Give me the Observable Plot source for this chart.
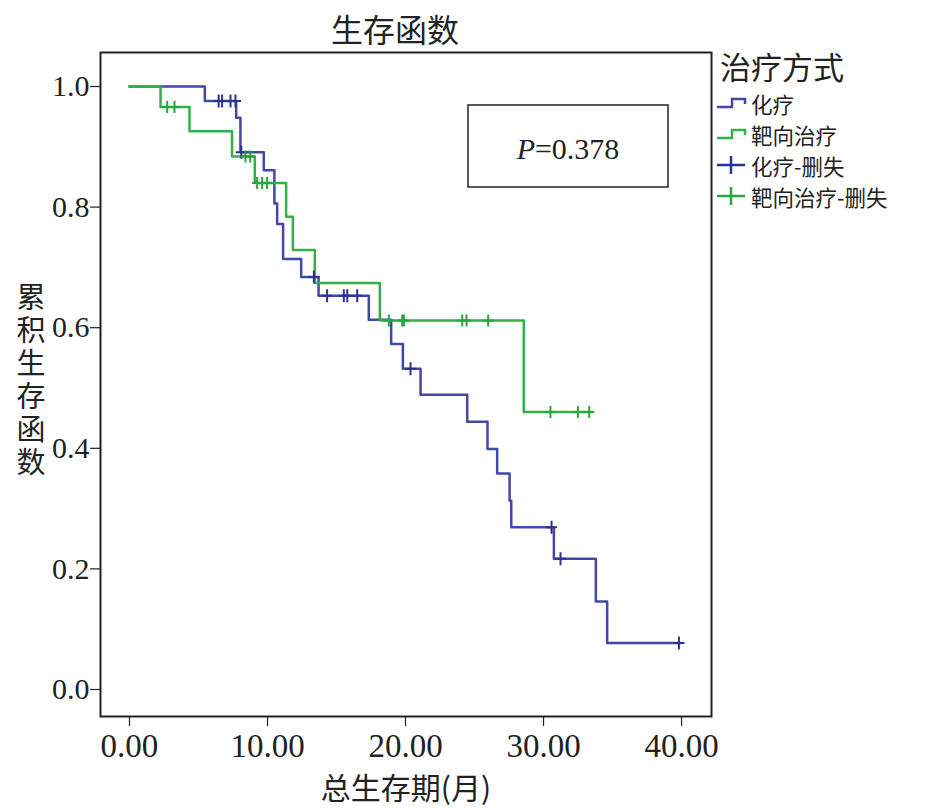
<!DOCTYPE html>
<html><head><meta charset="utf-8">
<script src="https://cdn.jsdelivr.net/npm/d3@7"></script>
<script src="https://cdn.jsdelivr.net/npm/@observablehq/plot@0.6"></script>
<style>body{margin:0;background:#fff}</style>
</head><body><div id="chart"></div>
<script>
// 化疗 (chemotherapy) Kaplan–Meier steps: time (months) and survival after the step
const chemoT = [0, 5.46, 7.73, 8.04, 9.73, 10.5, 10.7, 11.13, 12.44, 13.7, 17.34, 18.96, 19.81, 21.09, 24.47, 25.94, 26.64, 27.54, 27.66, 30.75, 33.79, 34.61, 39.9];
const chemoS = [1.0, 0.976, 0.948, 0.891, 0.861, 0.806, 0.772, 0.714, 0.684, 0.653, 0.613, 0.573, 0.532, 0.489, 0.444, 0.399, 0.358, 0.313, 0.269, 0.217, 0.146, 0.077, 0.077];
// 靶向治疗 (targeted therapy)
const targT = [0, 2.25, 4.35, 7.43, 9.08, 11.35, 11.84, 13.43, 18.14, 28.57, 33.5];
const targS = [1.0, 0.966, 0.926, 0.884, 0.84, 0.784, 0.729, 0.674, 0.612, 0.46, 0.46];
// censored observations
const chemoCensT = [6.46, 6.71, 7.32, 7.68, 8.1, 13.36, 14.32, 15.53, 15.78, 16.5, 20.36, 30.58, 31.23, 39.81];
const chemoCensS = [0.976, 0.976, 0.976, 0.976, 0.891, 0.684, 0.653, 0.653, 0.653, 0.653, 0.532, 0.269, 0.217, 0.077];
const targCensT = [2.73, 3.26, 8.4, 8.75, 9.25, 9.61, 9.97, 18.79, 19.76, 19.88, 24.11, 24.42, 25.99, 30.5, 32.49, 33.31];
const targCensS = [0.966, 0.966, 0.884, 0.884, 0.84, 0.84, 0.84, 0.612, 0.612, 0.612, 0.612, 0.612, 0.612, 0.46, 0.46, 0.46];
const xTicks = [0, 10, 20, 30, 40];
const yTicks = [0, 0.2, 0.4, 0.6, 0.8, 1.0];
const legendTitle = "治疗方式";
const legendLabels = ["化疗", "靶向治疗", "化疗-删失", "靶向治疗-删失"];
const pText = "0.378";

const blue = "#4248a8", blueDark = "#2c3192", green = "#33b046", greenDark = "#26a83a";
const zip = (T, S) => T.map((t, i) => ({t, s: S[i]}));
const chemo = zip(chemoT, chemoS), targ = zip(targT, targS);
const chemoCens = zip(chemoCensT, chemoCensS), targCens = zip(targCensT, targCensS);

const censorSymbol = {draw(ctx, size) {
  const r = Math.sqrt(size / Math.PI);
  ctx.moveTo(0, -r); ctx.lineTo(0, r);
  ctx.moveTo(-r * 0.85, 0); ctx.lineTo(r * 0.85, 0);
}};

const serif = "'Liberation Serif', 'Times New Roman', serif";
const cjk = "'Noto Sans CJK SC', sans-serif";

const plot = Plot.plot({
  width: 930, height: 810,
  marginLeft: 100, marginRight: 219, marginTop: 52, marginBottom: 94,
  style: {fontFamily: serif, fontSize: "30px", color: "#222", background: "#fff"},
  x: {domain: [-2.1, 42.17]},
  y: {domain: [-0.0448, 1.0564]},
  marks: [
    Plot.axisX({ticks: xTicks, tickFormat: d3.format(".2f"), tickSize: 10, tickPadding: 7, label: null, fontSize: 33, stroke: "#222", strokeWidth: 1.2}),
    Plot.axisY({ticks: yTicks, tickFormat: d3.format(".1f"), tickSize: 10, tickPadding: 1, label: null, fontSize: 30, stroke: "#222", strokeWidth: 1.2}),
    Plot.line(chemo, {x: "t", y: "s", curve: "step-after", stroke: blue, strokeWidth: 2.5}),
    Plot.line(targ, {x: "t", y: "s", curve: "step-after", stroke: green, strokeWidth: 2.5}),
    Plot.dot(chemoCens, {x: "t", y: "s", symbol: censorSymbol, r: 6.5, stroke: blueDark, strokeWidth: 2, fill: "none"}),
    Plot.dot(targCens, {x: "t", y: "s", symbol: censorSymbol, r: 6, stroke: greenDark, strokeWidth: 2, fill: "none"}),
    Plot.frame({stroke: "#222", strokeWidth: 2})
  ]
});

const svg = d3.select(plot);
const addText = (x, y, txt, size, family, anchor = "middle") =>
  svg.append("text").attr("x", x).attr("y", y).attr("text-anchor", anchor).attr("dominant-baseline", "central")
    .attr("font-family", family).attr("font-size", size).attr("fill", "#222").text(txt);
// title
addText(395, 28, "生存函数", 32, cjk);
// x label
addText(406, 786, "总生存期(月)", 30, cjk);
// y label (vertical, upright characters)
addText(31, 381, "累积生存函数", 29, cjk).attr("writing-mode", "vertical-rl").attr("text-orientation", "upright")
  .attr("letter-spacing", 4).attr("dominant-baseline", null);
// P value box
svg.append("rect").attr("x", 468).attr("y", 105).attr("width", 200).attr("height", 82)
  .attr("fill", "none").attr("stroke", "#222").attr("stroke-width", 1.5);
const pt = addText(568, 148, "", 30, serif);
pt.append("tspan").attr("font-style", "italic").text("P");
pt.append("tspan").text("=" + pText);
// legend
const rows = [103, 134, 165, 196];
const cols = [blue, green, blueDark, greenDark];
addText(720, 65, legendTitle, 31, cjk, "start");
legendLabels.forEach((lab, i) => {
  const y = rows[i];
  if (i < 2) {
    svg.append("path").attr("d", `M717,${y + 4}H732V${y - 4}H745V${y + 1}`)
      .attr("fill", "none").attr("stroke", cols[i]).attr("stroke-width", 2.5);
  } else {
    svg.append("path").attr("d", `M717,${y}H745M731,${y - 9}V${y + 9}`)
      .attr("fill", "none").attr("stroke", cols[i]).attr("stroke-width", 2.5);
  }
  addText(751, y, lab, 21.5, cjk, "start");
});
document.getElementById("chart").appendChild(plot);
</script>
</body></html>
